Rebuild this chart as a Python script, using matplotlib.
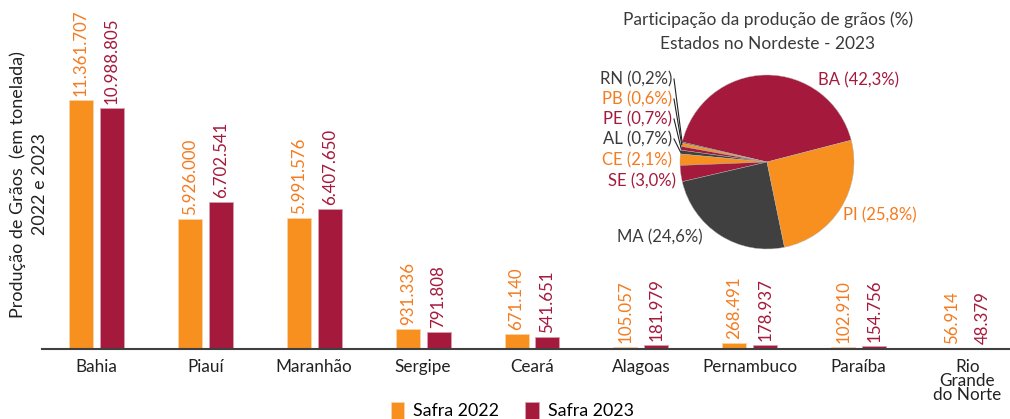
import numpy as np
import matplotlib.pyplot as plt

plt.rcParams['font.family'] = ['Lato', 'DejaVu Sans']

estados = ['Bahia', 'Piauí', 'Maranhão', 'Sergipe', 'Ceará', 'Alagoas',
           'Pernambuco', 'Paraíba', 'Rio\nGrande\ndo Norte']
safra_2022 = [11361707, 5926000, 5991576, 931336, 671140, 105057, 268491, 102910, 56914]
safra_2023 = [10988805, 6702541, 6407650, 791808, 541651, 181979, 178937, 154756, 48379]

pie_siglas = ['BA', 'RN', 'PB', 'PE', 'AL', 'CE', 'SE', 'MA', 'PI']
pie_pct = [42.3, 0.2, 0.6, 0.7, 0.7, 2.1, 3.0, 24.6, 25.8]

laranja = '#F7901E'
vinho = '#A51A3C'
cinza = '#404040'
txt_laranja = '#F47B20'
txt_cinza = '#3A3A3A'

def fmt(v):
    return f'{v:,}'.replace(',', '.')

fig = plt.figure(figsize=(10.1, 4.19), dpi=100)
ax = fig.add_axes([0.0416, 0.167, 0.9584, 0.833])

x = np.arange(len(estados))
w = 0.22
off = 0.142
b1 = ax.bar(x - off, safra_2022, w, color=laranja, edgecolor='#FBD3A8', linewidth=0.6, label='Safra 2022')
b2 = ax.bar(x + off, safra_2023, w, color=vinho, edgecolor='#D9A0AE', linewidth=0.6, label='Safra 2023')

ymax = 11361707 * 349 / 249
ax.set_ylim(0, ymax)
ax.set_xlim(-0.5, 8.39)
gap = ymax * 4 / 349
for xi, v in zip(x - off, safra_2022):
    ax.text(xi, v + gap, fmt(v), rotation=90, ha='center', va='bottom',
            color=txt_laranja, fontsize=12.2)
for xi, v in zip(x + off, safra_2023):
    ax.text(xi, v + gap, fmt(v), rotation=90, ha='center', va='bottom',
            color=vinho, fontsize=12.2)

for s in ['top', 'right', 'left']:
    ax.spines[s].set_visible(False)
ax.spines['bottom'].set_color('#404040')
ax.spines['bottom'].set_linewidth(1.5)
ax.set_yticks([])
ax.set_xticks(x)
ax.set_xticklabels(estados, fontsize=12.3, color='#222222', linespacing=0.86, va='top')
ax.tick_params(axis='x', length=0, pad=7)

fig.text(0.018, 0.56, 'Produção de Grãos  (em tonelada)', rotation=90,
         ha='center', va='center', fontsize=13, color='#222222')
fig.text(0.040, 0.56, '2022 e 2023', rotation=90,
         ha='center', va='center', fontsize=13, color='#222222')

leg = fig.legend(handles=[b1, b2], loc='center', bbox_to_anchor=(0.507, 0.02),
                 ncol=2, frameon=False, fontsize=12.8, handlelength=0.75,
                 handleheight=1.1, columnspacing=1.5, handletextpad=0.5)

# pizza
cx, cy, r = 767, 162, 87
pax = fig.add_axes([(cx - r) / 1010, (419 - cy - r) / 419, 2 * r / 1010, 2 * r / 419])
cores = [vinho, cinza, laranja, vinho, cinza, laranja, vinho, cinza, laranja]
wedges, _ = pax.pie(pie_pct, colors=cores, startangle=14.5, counterclock=True,
                    wedgeprops=dict(edgecolor='#b0b0b0', linewidth=0.3))
pax.set_xlim(-1, 1)
pax.set_ylim(-1, 1)
pax.set_aspect('auto')

fig.text(768 / 1010, 1 - 20 / 419, 'Participação da produção de grãos (%)', ha='center',
         va='center', fontsize=12.5, color=txt_cinza)
fig.text(768 / 1010, 1 - 44 / 419, 'Estados no Nordeste - 2023', ha='center',
         va='center', fontsize=12.5, color=txt_cinza)

cor_txt = [vinho, txt_cinza, txt_laranja, vinho, txt_cinza, txt_laranja, vinho, txt_cinza, txt_laranja]
pos_txt = {'BA': (858, 80, 'center'), 'PI': (880, 215, 'center'), 'MA': (660, 237, 'center'),
           'SE': (676, 181, 'right'), 'CE': (672, 160, 'right'), 'AL': (672, 139, 'right'),
           'PE': (672, 119, 'right'), 'PB': (672, 99, 'right'), 'RN': (672, 79, 'right')}
for sig, p, wd, ct in zip(pie_siglas, pie_pct, wedges, cor_txt):
    px, py, ha = pos_txt[sig]
    lab = f'{sig} ({p:.1f}%)'.replace('.', ',')
    fig.text(px / 1010, 1 - py / 419, lab, ha=ha, va='center', fontsize=12, color=ct)
    if sig in ['RN', 'PB', 'PE', 'AL']:
        ang = np.deg2rad((wd.theta1 + wd.theta2) / 2)
        ex, ey = np.cos(ang), np.sin(ang)
        tx = (px + 2 - cx) / r
        ty = (cy - py) / r
        pax.plot([tx, ex], [ty, ey], color='#222222', lw=0.8, clip_on=False)

fig.savefig('out.png', dpi=100)
